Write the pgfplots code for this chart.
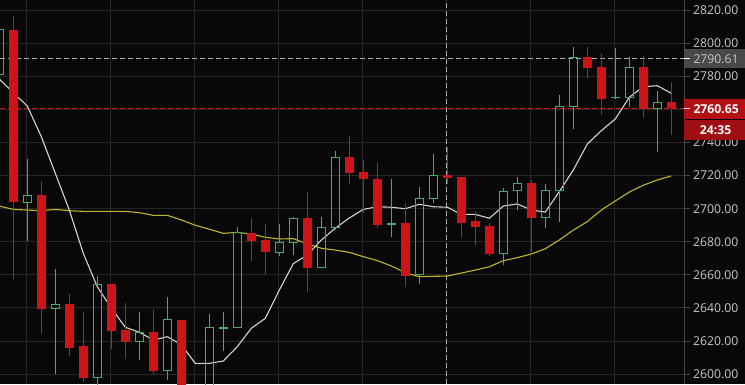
\documentclass[border=0pt]{standalone}
\usepackage{pgfplots}
\pgfplotsset{compat=1.18}
\usepackage{pgfplotstable}
\usepackage{fontspec}
\setmainfont{Open Sans}

\definecolor{bgc}{RGB}{8,8,8}
\definecolor{gridc}{RGB}{38,38,38}
\definecolor{axc}{RGB}{72,72,72}
\definecolor{lblc}{RGB}{200,200,200}
\definecolor{candr}{RGB}{206,20,24}
\definecolor{candg}{RGB}{68,172,100}
\definecolor{maw}{RGB}{212,212,212}
\definecolor{may}{RGB}{192,182,42}
\definecolor{dashg}{RGB}{175,175,175}
\definecolor{dashr}{RGB}{200,24,28}
\definecolor{boxg}{RGB}{72,72,72}
\definecolor{boxr}{RGB}{178,16,20}
\definecolor{boxr2}{RGB}{158,14,18}

% red (falling) candles
\pgfplotstableread{
k O H L C
0 2808.1 2816.6 2657.3 2704.3
2 2708.1 2716.8 2624.2 2639.5
4 2642.4 2648.4 2610.9 2616.0
5 2617.0 2637.7 2595.4 2597.8
7 2654.3 2654.3 2615.0 2626.2
8 2626.7 2643.2 2609.1 2619.6
10 2625.3 2639.2 2600.0 2602.0
12 2632.7 2632.7 2578.0 2586.0
17 2685.5 2694.2 2668.6 2680.7
18 2681.1 2690.8 2660.5 2673.8
21 2694.2 2709.9 2649.8 2664.3
24 2731.1 2744.2 2715.0 2721.8
25 2722.0 2729.5 2697.6 2718.2
26 2717.8 2727.8 2688.5 2690.2
28 2691.2 2703.6 2652.8 2659.3
31 2720.2 2737.2 2715.0 2718.6
32 2719.2 2719.2 2682.7 2691.6
33 2692.6 2698.6 2678.1 2689.1
34 2689.6 2691.2 2671.6 2672.6
37 2715.6 2717.4 2672.6 2694.6
41 2791.6 2798.0 2779.2 2785.3
42 2785.5 2793.6 2756.7 2766.5
45 2785.5 2792.5 2755.1 2760.5
47 2764.4 2776.8 2744.4 2760.65
}\redc

% green (rising) candles
\pgfplotstableread{
k O H L C
-1 2781.1 2812.0 2776.0 2808.5
1 2703.6 2729.9 2680.5 2708.1
3 2639.5 2663.5 2599.9 2642.2
6 2598.0 2659.3 2593.0 2654.3
9 2619.8 2637.4 2608.5 2625.3
11 2602.3 2646.8 2596.4 2633.1
13 2586.0 2592.0 2576.0 2589.0
14 2589.0 2636.5 2584.0 2628.3
15 2627.6 2637.4 2614.1 2628.1
16 2628.3 2688.8 2628.3 2685.5
19 2673.4 2690.8 2671.4 2679.7
20 2679.7 2694.8 2672.0 2694.2
22 2664.3 2694.8 2664.3 2688.8
23 2688.5 2734.9 2688.5 2731.1
27 2690.5 2717.8 2682.9 2691.0
29 2660.3 2713.1 2654.5 2706.3
30 2706.3 2733.1 2703.6 2720.2
35 2673.0 2712.4 2666.0 2710.5
36 2710.9 2719.2 2699.2 2715.4
38 2694.6 2715.0 2688.2 2711.1
39 2710.9 2768.8 2692.2 2761.9
40 2761.7 2798.0 2748.4 2791.6
43 2767.0 2797.0 2766.4 2767.3
44 2767.1 2791.9 2761.7 2785.5
46 2760.7 2771.2 2734.5 2764.4
}\grnc

% fast moving average (white)
\pgfplotstableread{
k v
-1 2778.4
0 2770.2
1 2762.1
2 2743.6
3 2721.4
4 2699.2
5 2673.0
6 2652.8
7 2640.0
8 2628.3
9 2625.3
10 2620.6
11 2622.6
12 2617.8
13 2606.5
14 2606.5
15 2607.9
16 2616.6
17 2627.7
18 2633.7
19 2650.8
20 2666.8
21 2672.0
22 2681.1
23 2688.2
24 2694.4
25 2699.6
26 2701.2
27 2700.9
28 2700.0
29 2702.7
30 2701.2
31 2700.9
32 2696.6
33 2696.6
34 2694.2
35 2701.6
36 2702.9
37 2699.2
38 2698.0
39 2710.3
40 2723.4
41 2739.1
42 2747.2
43 2754.3
44 2767.4
45 2773.8
46 2774.4
47 2769.8
}\mafast

% slow moving average (yellow)
\pgfplotstableread{
k v
-1 2701.6
0 2699.6
1 2699.2
2 2698.8
3 2699.6
4 2698.8
5 2698.4
6 2698.4
7 2698.4
8 2698.4
9 2697.6
10 2696.0
11 2696.0
12 2693.2
13 2690.0
14 2687.6
15 2685.1
16 2685.7
17 2684.7
18 2682.7
19 2681.7
20 2681.9
21 2678.7
22 2676.1
23 2675.0
24 2673.6
25 2671.0
26 2668.6
27 2665.4
28 2661.3
29 2658.9
30 2659.1
31 2659.3
32 2661.1
33 2662.9
34 2664.9
35 2668.6
36 2670.4
37 2672.6
38 2675.8
39 2681.1
40 2687.1
41 2692.2
42 2699.2
43 2704.7
44 2710.1
45 2714.2
46 2717.4
47 2719.8
}\maslow

% pt per price unit: 384pt / (2826.23-2594.0) = 1.65353
\pgfdeclareplotmark{candleR}{%
  \pgfsetlinewidth{1pt}%
  \pgfpathmoveto{\pgfqpoint{0pt}{\cdL pt}}%
  \pgfpathlineto{\pgfqpoint{0pt}{\cdH pt}}%
  \pgfusepath{stroke}%
  \pgfpathrectangle{\pgfqpoint{-4.3pt}{0pt}}{\pgfqpoint{8.6pt}{\cdC pt}}%
  \pgfusepath{fill}%
}
\pgfdeclareplotmark{candleG}{%
  \pgfsetlinewidth{1pt}%
  \pgfpathmoveto{\pgfqpoint{0pt}{\cdL pt}}%
  \pgfpathlineto{\pgfqpoint{0pt}{0pt}}%
  \pgfpathmoveto{\pgfqpoint{0pt}{\cdC pt}}%
  \pgfpathlineto{\pgfqpoint{0pt}{\cdH pt}}%
  \pgfusepath{stroke}%
  \pgfpathrectangle{\pgfqpoint{-3.8pt}{0pt}}{\pgfqpoint{7.6pt}{\cdC pt}}%
  \pgfusepath{stroke}%
}

\pgfplotsset{
  candle data/.style={
    scatter, only marks,
    visualization depends on={(\thisrow{H}-\thisrow{O})*1.65353 \as \cdH},
    visualization depends on={(\thisrow{L}-\thisrow{O})*1.65353 \as \cdL},
    visualization depends on={(\thisrow{C}-\thisrow{O})*1.65353 \as \cdC},
  },
}

\begin{document}
\begin{tikzpicture}
\fill[bgc] (0pt,0pt) rectangle (745pt,384pt);
\begin{axis}[
  at={(0pt,0pt)}, anchor=south west,
  width=684pt, height=384pt, scale only axis,
  xmin=-0.95, xmax=47.907, ymin=2594.0, ymax=2826.23,
  axis x line*=bottom, axis y line*=right,
  x axis line style={draw=none},
  y axis line style={draw=axc, line width=1pt},
  xtick={0.93,6.93,12.93,18.93,24.93,30.93,36.93,42.93},
  xticklabels={},
  xtick style={draw=none},
  ytick={2600,2620,2640,2660,2680,2700,2720,2740,2760,2780,2800,2820},
  yticklabels={2600.00,2620.00,2640.00,2660.00,2680.00,2700.00,2720.00,2740.00,2760.00,2780.00,2800.00,2820.00},
  ytick style={draw=axc, line width=1pt},
  tick align=outside, major tick length=6pt,
  grid=major, major grid style={draw=gridc, line width=1pt},
  yticklabel style={font=\fontsize{12.2}{14}\selectfont, text=lblc, anchor=west, inner sep=0pt, xshift=3pt},
  clip=false,
]
\addplot[draw=dashg, line width=1pt, dash pattern=on 5pt off 3pt] coordinates {(-0.95,2790.61) (47.907,2790.61)};
\addplot[draw=dashr, line width=1pt, dash pattern=on 5pt off 3pt] coordinates {(-0.95,2760.65) (47.907,2760.65)};
\addplot[draw=dashg, line width=1pt, dash pattern=on 5pt off 3pt] coordinates {(30.93,2594.0) (30.93,2826.23)};
\addplot[candle data, mark=candleG, scatter/use mapped color={draw=candg, fill=candg}] table[x=k, y=O] {\grnc};
\addplot[candle data, mark=candleR, scatter/use mapped color={draw=candr, fill=candr}] table[x=k, y=O] {\redc};
\addplot[draw=may, line width=1.1pt] table[x=k, y=v] {\maslow};
\addplot[draw=maw, line width=1.1pt] table[x=k, y=v] {\mafast};
\coordinate (lvA) at (axis cs:47.907,2790.61);
\coordinate (lvB) at (axis cs:47.907,2760.65);
\end{axis}
\fill[boxg] ([yshift=-9.5pt]lvA) rectangle ([xshift=62pt,yshift=9.5pt]lvA);
\draw[white, line width=1pt] (lvA) -- ([xshift=6pt]lvA);
\node[anchor=west, inner sep=0pt, text=lblc, font=\fontsize{12.2}{14}\selectfont] at ([xshift=9.3pt]lvA) {2790.61};
\fill[boxr] ([yshift=-10.6pt]lvB) rectangle ([xshift=62pt,yshift=9.1pt]lvB);
\fill[boxr2] ([yshift=-11.4pt]lvB) rectangle ([xshift=62pt,yshift=-31.6pt]lvB);
\draw[white, line width=1pt] (lvB) -- ([xshift=6pt]lvB);
\node[anchor=west, inner sep=0pt, text=white, font=\fontsize{12.2}{14}\selectfont\bfseries] at ([xshift=9.3pt,yshift=-0.6pt]lvB) {2760.65};
\node[inner sep=0pt, text=white, font=\fontsize{12.2}{14}\selectfont\bfseries] at ([xshift=31.6pt,yshift=-21.5pt]lvB) {24:35};
\pgfresetboundingbox
\path[use as bounding box] (0pt,0pt) rectangle (745pt,384pt);
\end{tikzpicture}
\end{document}
